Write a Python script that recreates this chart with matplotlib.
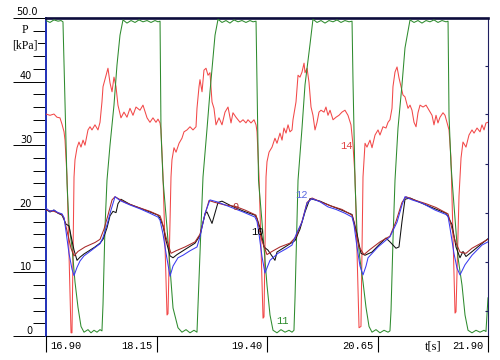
import matplotlib
matplotlib.use("Agg")
import matplotlib.pyplot as plt
from matplotlib.ticker import MultipleLocator

# ---------------- data (t in s, P in kPa) ----------------
t14 = [16.900, 16.945, 16.990, 17.024, 17.058, 17.081, 17.104, 17.115, 17.138, 17.183, 17.194, 17.217, 17.228,
       17.251, 17.273, 17.296, 17.319, 17.341, 17.375, 17.398, 17.420, 17.454, 17.488, 17.511, 17.533, 17.545,
       17.579, 17.601, 17.624, 17.647, 17.669, 17.692, 17.714, 17.748, 17.782, 17.816, 17.850, 17.884, 17.918,
       17.963, 17.997, 18.043, 18.076, 18.110, 18.144, 18.167, 18.190, 18.201, 18.224, 18.269, 18.280, 18.314,
       18.325, 18.348, 18.371, 18.405, 18.438, 18.461, 18.495, 18.529, 18.563, 18.597, 18.608, 18.631, 18.642,
       18.665, 18.687, 18.710, 18.733, 18.755, 18.778, 18.800, 18.823, 18.857, 18.891, 18.925, 18.959, 18.993,
       19.015, 19.049, 19.095, 19.129, 19.162, 19.185, 19.219, 19.253, 19.276, 19.287, 19.310, 19.355, 19.366,
       19.389, 19.400, 19.423, 19.457, 19.490, 19.513, 19.547, 19.570, 19.592, 19.615, 19.638, 19.660, 19.683,
       19.694, 19.728, 19.751, 19.773, 19.796, 19.819, 19.830, 19.853, 19.875, 19.898, 19.920, 19.943, 19.966,
       19.988, 20.011, 20.045, 20.067, 20.090, 20.113, 20.147, 20.181, 20.214, 20.248, 20.282, 20.316, 20.350,
       20.373, 20.396, 20.441, 20.463, 20.486, 20.509, 20.531, 20.565, 20.588, 20.622, 20.656, 20.678, 20.712,
       20.746, 20.769, 20.791, 20.814, 20.825, 20.848, 20.871, 20.893, 20.916, 20.938, 20.961, 20.995, 21.018,
       21.040, 21.063, 21.086, 21.108, 21.131, 21.165, 21.199, 21.233, 21.267, 21.289, 21.312, 21.334, 21.357,
       21.391, 21.414, 21.436, 21.459, 21.481, 21.527, 21.538, 21.572, 21.595, 21.617, 21.651, 21.685, 21.719,
       21.742, 21.776, 21.810, 21.832, 21.855, 21.877, 21.900]
p14 = [34.9, 34.7, 34.9, 34.4, 34.3, 33.3, 32.1, 30.8, 25.0, 0.5, 0.5, 25.0, 27.7,
       29.6, 30.5, 29.7, 30.8, 30.0, 32.4, 32.9, 32.4, 33.2, 32.4, 33.6, 36.8, 39.2,
       41.0, 42.1, 39.8, 38.4, 40.7, 39.2, 36.3, 34.3, 35.2, 34.4, 35.8, 34.7, 36.0,
       35.5, 36.3, 34.3, 33.6, 34.3, 33.6, 34.1, 33.5, 32.4, 25.0, 3.3, 3.5, 25.0,
       27.7, 29.6, 28.9, 30.3, 31.1, 32.1, 32.4, 32.9, 32.4, 32.9, 35.8, 39.2, 40.3,
       38.4, 41.8, 42.1, 41.0, 41.4, 36.8, 35.8, 33.2, 34.3, 33.2, 35.2, 36.0, 33.5,
       35.1, 34.4, 33.6, 34.0, 33.5, 34.0, 33.5, 34.0, 33.2, 32.1, 25.0, 2.8, 3.0,
       25.0, 27.4, 28.9, 29.7, 31.1, 30.3, 31.9, 30.8, 32.7, 31.9, 33.2, 32.1, 32.4,
       34.0, 36.8, 41.0, 40.7, 41.5, 42.9, 41.4, 42.1, 39.9, 36.0, 34.7, 32.4, 33.6,
       35.2, 35.5, 35.2, 36.0, 34.7, 35.5, 34.0, 34.4, 34.7, 35.2, 35.5, 34.7, 33.2,
       30.0, 25.0, 1.3, 1.5, 25.0, 30.3, 29.7, 30.8, 29.6, 31.6, 32.4, 31.6, 32.9,
       32.7, 33.6, 34.0, 35.8, 39.2, 41.5, 42.3, 40.6, 39.2, 37.9, 37.6, 35.8, 36.3,
       35.5, 33.6, 32.9, 35.1, 36.3, 36.0, 36.3, 35.5, 34.7, 33.2, 34.7, 33.5, 34.4,
       35.1, 34.7, 33.6, 32.4, 28.0, 3.6, 3.8, 22.0, 28.0, 30.5, 29.7, 31.6, 32.4,
       31.9, 32.7, 32.1, 33.2, 32.4, 33.5, 33.6]

t11 = [16.900, 16.945, 16.990, 17.036, 17.070, 17.092, 17.138, 17.160, 17.194, 17.228, 17.262, 17.296, 17.330,
       17.375, 17.409, 17.443, 17.477, 17.511, 17.533, 17.545, 17.567, 17.590, 17.624, 17.669, 17.703, 17.737,
       17.771, 17.816, 17.862, 17.907, 17.952, 17.997, 18.043, 18.088, 18.133, 18.167, 18.190, 18.201, 18.224,
       18.269, 18.303, 18.337, 18.393, 18.438, 18.484, 18.529, 18.574, 18.608, 18.620, 18.653, 18.676, 18.721,
       18.755, 18.812, 18.846, 18.891, 18.936, 18.981, 19.027, 19.072, 19.117, 19.162, 19.208, 19.242, 19.276,
       19.287, 19.304, 19.343, 19.400, 19.434, 19.468, 19.513, 19.558, 19.604, 19.649, 19.683, 19.705, 19.717,
       19.751, 19.796, 19.830, 19.886, 19.920, 19.966, 20.011, 20.056, 20.101, 20.147, 20.192, 20.237, 20.282,
       20.328, 20.362, 20.373, 20.396, 20.418, 20.452, 20.486, 20.520, 20.554, 20.588, 20.633, 20.678, 20.724,
       20.769, 20.791, 20.803, 20.825, 20.848, 20.882, 20.927, 20.961, 21.018, 21.063, 21.108, 21.153, 21.199,
       21.244, 21.289, 21.334, 21.380, 21.425, 21.448, 21.459, 21.481, 21.504, 21.561, 21.606, 21.640, 21.674,
       21.719, 21.764, 21.810, 21.855, 21.877, 21.900]
p11 = [49.6, 49.3, 49.7, 49.5, 49.6, 49.4, 24.0, 17.5, 14.0, 8.5, 4.5, 1.5, 0.6,
       1.0, 0.5, 0.9, 0.6, 1.0, 0.8, 5.0, 17.0, 24.5, 30.0, 36.3, 42.6, 47.3,
       49.7, 49.2, 49.6, 49.3, 49.7, 49.4, 49.6, 49.3, 49.6, 49.4, 49.5, 32.0, 24.5,
       17.0, 10.7, 4.4, 1.3, 0.6, 1.0, 0.5, 0.9, 0.6, 5.0, 17.0, 25.0, 32.5,
       38.4, 47.3, 49.8, 49.3, 49.6, 49.2, 49.7, 49.4, 49.6, 49.3, 49.6, 49.4, 49.5,
       40.0, 24.5, 18.0, 8.0, 3.3, 0.9, 0.5, 1.0, 0.6, 0.9, 0.6, 0.9, 6.0,
       24.5, 32.7, 39.5, 45.8, 49.8, 49.3, 49.6, 49.2, 49.6, 49.4, 49.7, 49.3, 49.6,
       49.4, 49.5, 40.0, 24.0, 16.5, 12.0, 8.5, 4.5, 1.5, 0.6, 1.0, 0.5, 0.9,
       0.6, 0.8, 4.0, 15.0, 24.5, 32.7, 39.5, 45.3, 49.7, 49.3, 49.6, 49.2, 49.6,
       49.4, 49.7, 49.3, 49.6, 49.4, 49.5, 34.7, 27.0, 22.6, 12.3, 8.0, 3.3, 0.9,
       0.5, 0.9, 0.6, 0.9, 0.7, 6.0]

t12 = [16.900, 16.945, 16.990, 17.036, 17.081, 17.104, 17.126, 17.160, 17.194, 17.217, 17.251, 17.285, 17.330,
       17.398, 17.454, 17.511, 17.545, 17.590, 17.635, 17.681, 17.737, 17.850, 17.963, 18.076, 18.167, 18.190,
       18.224, 18.258, 18.303, 18.337, 18.393, 18.450, 18.529, 18.608, 18.642, 18.699, 18.755, 18.834, 18.981,
       19.129, 19.264, 19.287, 19.310, 19.343, 19.377, 19.434, 19.524, 19.615, 19.683, 19.739, 19.796, 19.853,
       19.909, 20.000, 20.090, 20.181, 20.282, 20.362, 20.384, 20.418, 20.452, 20.486, 20.520, 20.543, 20.656,
       20.791, 20.871, 20.927, 20.961, 21.040, 21.153, 21.301, 21.425, 21.448, 21.470, 21.515, 21.549, 21.583,
       21.640, 21.719, 21.832, 21.900]
p12 = [20.1, 19.6, 19.8, 19.4, 19.2, 18.6, 16.5, 13.0, 10.5, 9.5, 10.8, 11.8, 12.6,
       13.3, 13.9, 14.5, 15.5, 17.5, 19.8, 21.9, 21.3, 20.6, 20.0, 19.3, 18.7, 18.2,
       16.0, 13.0, 9.4, 11.0, 12.3, 12.7, 13.4, 14.0, 15.6, 19.3, 21.4, 21.1, 20.3,
       19.5, 18.7, 18.0, 16.0, 12.5, 9.9, 11.9, 13.0, 13.7, 14.3, 16.3, 17.9, 20.9,
       21.6, 21.1, 20.3, 19.9, 19.3, 18.7, 17.5, 14.0, 11.0, 9.6, 11.0, 12.3, 14.0,
       15.6, 17.9, 20.6, 21.9, 21.4, 20.9, 19.8, 19.1, 18.8, 17.0, 13.0, 10.7, 9.6,
       11.2, 12.7, 14.3, 14.8]

t10 = [16.900, 16.945, 16.990, 17.036, 17.081, 17.104, 17.126, 17.160, 17.194, 17.217, 17.251, 17.285, 17.330,
       17.398, 17.454, 17.511, 17.545, 17.590, 17.624, 17.658, 17.692, 17.714, 17.748, 17.850, 17.963, 18.076,
       18.167, 18.190, 18.224, 18.258, 18.303, 18.337, 18.382, 18.472, 18.586, 18.642, 18.699, 18.721, 18.778,
       18.846, 18.891, 19.004, 19.140, 19.264, 19.287, 19.321, 19.366, 19.411, 19.490, 19.513, 19.604, 19.717,
       19.773, 19.830, 19.886, 20.000, 20.113, 20.226, 20.362, 20.384, 20.418, 20.463, 20.509, 20.588, 20.678,
       20.746, 20.791, 20.859, 20.893, 20.927, 20.961, 21.018, 21.131, 21.267, 21.425, 21.448, 21.493, 21.538,
       21.583, 21.617, 21.651, 21.696, 21.810, 21.900]
p10 = [19.9, 19.5, 19.8, 19.3, 19.0, 18.3, 17.6, 17.3, 15.0, 13.5, 11.9, 12.4, 12.9,
       13.5, 14.0, 14.6, 15.2, 17.0, 18.9, 19.6, 19.4, 20.8, 21.5, 20.7, 20.1, 19.5,
       19.0, 18.5, 17.3, 15.0, 12.6, 12.3, 12.8, 13.6, 14.6, 15.8, 19.2, 19.5, 17.7,
       21.0, 21.2, 20.4, 19.6, 19.0, 18.5, 17.0, 14.0, 13.5, 11.9, 13.2, 14.0, 15.0,
       16.8, 19.5, 21.6, 21.2, 20.5, 19.9, 19.1, 18.0, 16.0, 13.0, 12.7, 13.2, 14.5,
       15.4, 14.8, 13.8, 14.0, 18.0, 21.5, 21.7, 21.0, 20.2, 19.3, 18.8, 17.5, 14.0,
       12.3, 13.3, 12.5, 13.0, 14.3, 15.3]

t9 = [16.900, 16.990, 17.081, 17.104, 17.138, 17.183, 17.217, 17.262, 17.341, 17.454, 17.511, 17.556, 17.601,
      17.647, 17.681, 17.794, 17.907, 18.076, 18.190, 18.212, 18.258, 18.314, 18.371, 18.472, 18.586, 18.642,
      18.687, 18.744, 18.812, 18.925, 19.038, 19.151, 19.276, 19.298, 19.343, 19.400, 19.457, 19.547, 19.660,
      19.728, 19.796, 19.853, 19.909, 20.022, 20.135, 20.248, 20.362, 20.396, 20.441, 20.497, 20.565, 20.678,
      20.791, 20.859, 20.927, 20.972, 21.086, 21.199, 21.312, 21.448, 21.481, 21.527, 21.583, 21.651, 21.719,
      21.810, 21.900]
p9 = [19.8, 19.6, 19.1, 18.5, 16.5, 13.8, 12.6, 13.3, 14.0, 14.7, 15.2, 16.8, 19.0,
      21.4, 21.9, 21.0, 20.4, 19.6, 18.9, 18.0, 15.5, 13.0, 13.4, 14.0, 14.8, 16.0,
      18.5, 21.3, 21.0, 20.6, 20.4, 19.8, 19.0, 17.8, 15.0, 12.8, 13.3, 14.0, 14.6,
      15.6, 18.0, 21.0, 21.7, 21.0, 20.4, 19.9, 19.0, 17.0, 14.0, 12.8, 13.6, 14.8,
      15.7, 18.0, 21.0, 21.9, 21.3, 20.8, 20.2, 19.2, 17.5, 15.0, 13.2, 13.0, 13.8,
      14.5, 15.2]

x_ticks = [16.90, 18.15, 19.40, 20.65, 21.90]
x_labels = ["16.90", "18.15", "19.40", "20.65", "21.90"]
y_major = [0, 10, 20, 30, 40, 50]
y_labels = ["0", "10", "20", "30", "40", "50.0"]
right_ticks = [3.9, 11.6, 19.3, 27.0, 34.9, 42.5]

series_labels = [("9", 19.038, 20.3, "#b03030"),
                 ("10", 19.298, 16.3, "#000000"),
                 ("12", 19.796, 22.2, "#5a6ae0"),
                 ("11", 19.581, 2.3, "#2a8a2a"),
                 ("14", 20.305, 29.9, "#e04040")]

# ---------------- figure ----------------
W, H = 500, 360
fig = plt.figure(figsize=(W / 100, H / 100), dpi=100)
fig.patch.set_facecolor("white")
ax = fig.add_axes([46 / W, 1 - 336 / H, 442 / W, 318 / H])
ax.set_xlim(16.90, 21.90)
ax.set_ylim(0, 50)

lw = 0.75
ax.plot(t14, p14, color="#f24848", lw=lw, zorder=3)
ax.plot(t11, p11, color="#2e8b2e", lw=lw, zorder=4)
ax.plot(t10, p10, color="#111111", lw=lw, zorder=5)
ax.plot(t9, p9, color="#a82828", lw=lw, zorder=5)
ax.plot(t12, p12, color="#3a3af0", lw=lw, zorder=6)

for txt, tx, ty, c in series_labels:
    ax.text(tx, ty, txt, color=c, fontsize=7.5, family="Liberation Mono",
            ha="center", va="center", zorder=7)

# spines
ax.spines["top"].set_color("#0c0c3c")
ax.spines["top"].set_linewidth(1.9)
ax.spines["left"].set_color("#2030b8")
ax.spines["left"].set_linewidth(1.4)
ax.spines["right"].set_color("#202060")
ax.spines["right"].set_linewidth(0.8)
ax.spines["bottom"].set_color("#000000")
ax.spines["bottom"].set_linewidth(0.8)

# y ticks (long left major ticks, short minor)
ax.set_yticks(y_major)
ax.yaxis.set_minor_locator(MultipleLocator(2))
ax.tick_params(axis="y", which="major", direction="out", length=24, width=0.7,
               color="#000000", labelleft=False)
ax.tick_params(axis="y", which="minor", direction="out", length=9.5, width=0.7,
               color="#000000")
for v, lab in zip(y_major, y_labels):
    if lab == "50.0":
        ax.annotate(lab, xy=(0, v), xycoords=("axes fraction", "data"),
                    xytext=(-14, 2.2), textcoords="offset points",
                    ha="center", va="baseline", fontsize=7, family="DejaVu Sans")
    else:
        ax.annotate(lab, xy=(0, v), xycoords=("axes fraction", "data"),
                    xytext=(-10, 1.6), textcoords="offset points",
                    ha="right", va="baseline", fontsize=7, family="DejaVu Sans")

# x ticks (downward lines into the label strip)
ax.set_xticks(x_ticks)
ax.tick_params(axis="x", which="major", direction="out", length=11.5, width=0.8,
               color="#000000", labelbottom=False)
for i, (v, lab) in enumerate(zip(x_ticks, x_labels)):
    if i == 0:
        ax.annotate(lab, xy=(v, 0), xycoords=("data", "axes fraction"),
                    xytext=(3, -7), textcoords="offset points",
                    ha="left", va="center", fontsize=7.5, family="Liberation Mono")
    else:
        ax.annotate(lab, xy=(v, 0), xycoords=("data", "axes fraction"),
                    xytext=(-3, -7), textcoords="offset points",
                    ha="right", va="center", fontsize=7.5, family="Liberation Mono")

ax.annotate("t[s]", xy=(20.65, 0), xycoords=("data", "axes fraction"),
            xytext=(40, -7.6), textcoords="offset points",
            ha="center", va="center", fontsize=9, family="Liberation Serif")

# right axis small inward ticks
ax2 = ax.twinx()
ax2.set_ylim(0, 50)
ax2.set_yticks(right_ticks)
ax2.tick_params(axis="y", direction="in", length=2.5, width=0.8, color="#202060",
                labelright=False)
for s in ax2.spines.values():
    s.set_visible(False)

# axis title
fig.text(25 / W, 1 - 30 / H, "P", ha="center", va="center", fontsize=8.5,
         family="Liberation Serif")
fig.text(25 / W, 1 - 46 / H, "[kPa]", ha="center", va="center", fontsize=8.5,
         family="Liberation Serif",
         bbox=dict(facecolor="white", edgecolor="none", pad=0.2))

fig.savefig("out.png", dpi=100, facecolor="white")
